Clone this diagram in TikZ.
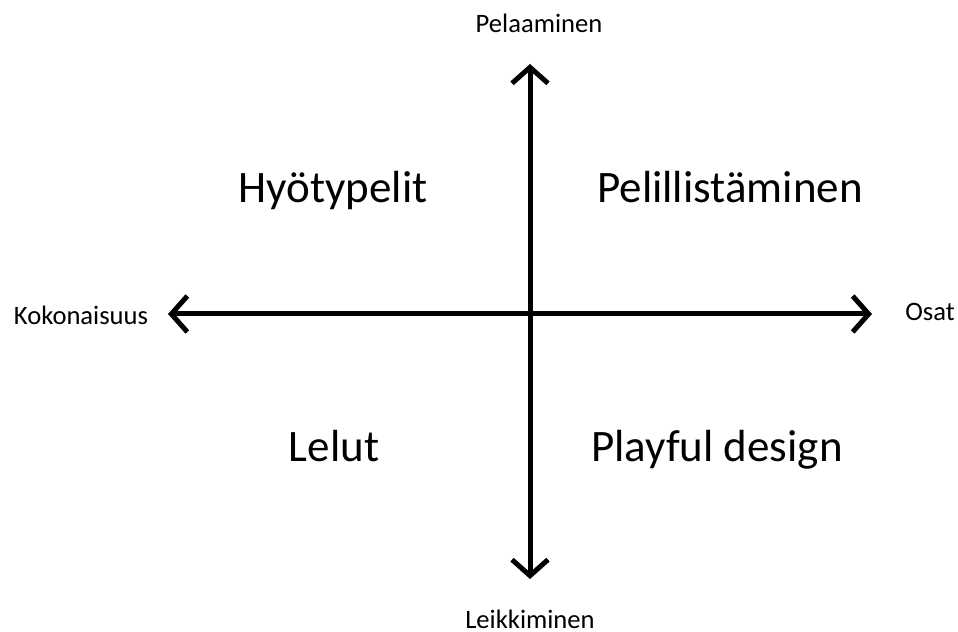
\documentclass[tikz,border=0pt]{standalone}
\usepackage{fontspec}
\setmainfont{Carlito}
\usetikzlibrary{arrows.meta}

\begin{document}
\begin{tikzpicture}[
        x=0.5bp, y=-0.5bp,
        axis/.style={{Straight Barb[length=8bp, width=18bp]}-{Straight Barb[length=8bp, width=18bp]}, line width=2.5bp, line cap=round, line join=round},
        pole/.style={font=\fontsize{13.3bp}{16bp}\selectfont, anchor=base, inner sep=0pt},
        quad/.style={font=\fontsize{22.5bp}{27bp}\selectfont, anchor=base, inner sep=0pt}
    ]
        \useasboundingbox (0,0) rectangle (958,632);

        % Axis ends
        \coordinate (ytop) at (530,64);
        \coordinate (ybot) at (530,579);
        \coordinate (xleft) at (168,314);
        \coordinate (xright) at (872,314);

        \draw[axis] (ybot) -- (ytop);
        \draw[axis] (xleft) -- (xright);

        % Pole labels
        \node[pole] (pelaaminen) at (539,33) {Pelaaminen};
        \node[pole] (leikkiminen) at (530,628) {Leikkiminen};
        \node[pole] (kokonaisuus) at (81,325) {Kokonaisuus};
        \node[pole] (osat) at (930,321) {Osat};

        % Quadrants
        \node[quad] (hyoty) at (333,203) {Hyötypelit};
        \node[quad] (pelill) at (730,203) {Pelillistäminen};
        \node[quad] (lelut) at (334,462) {Lelut};
        \node[quad] (playful) at (717,462) {Playful design};
    \end{tikzpicture}
\end{document}
